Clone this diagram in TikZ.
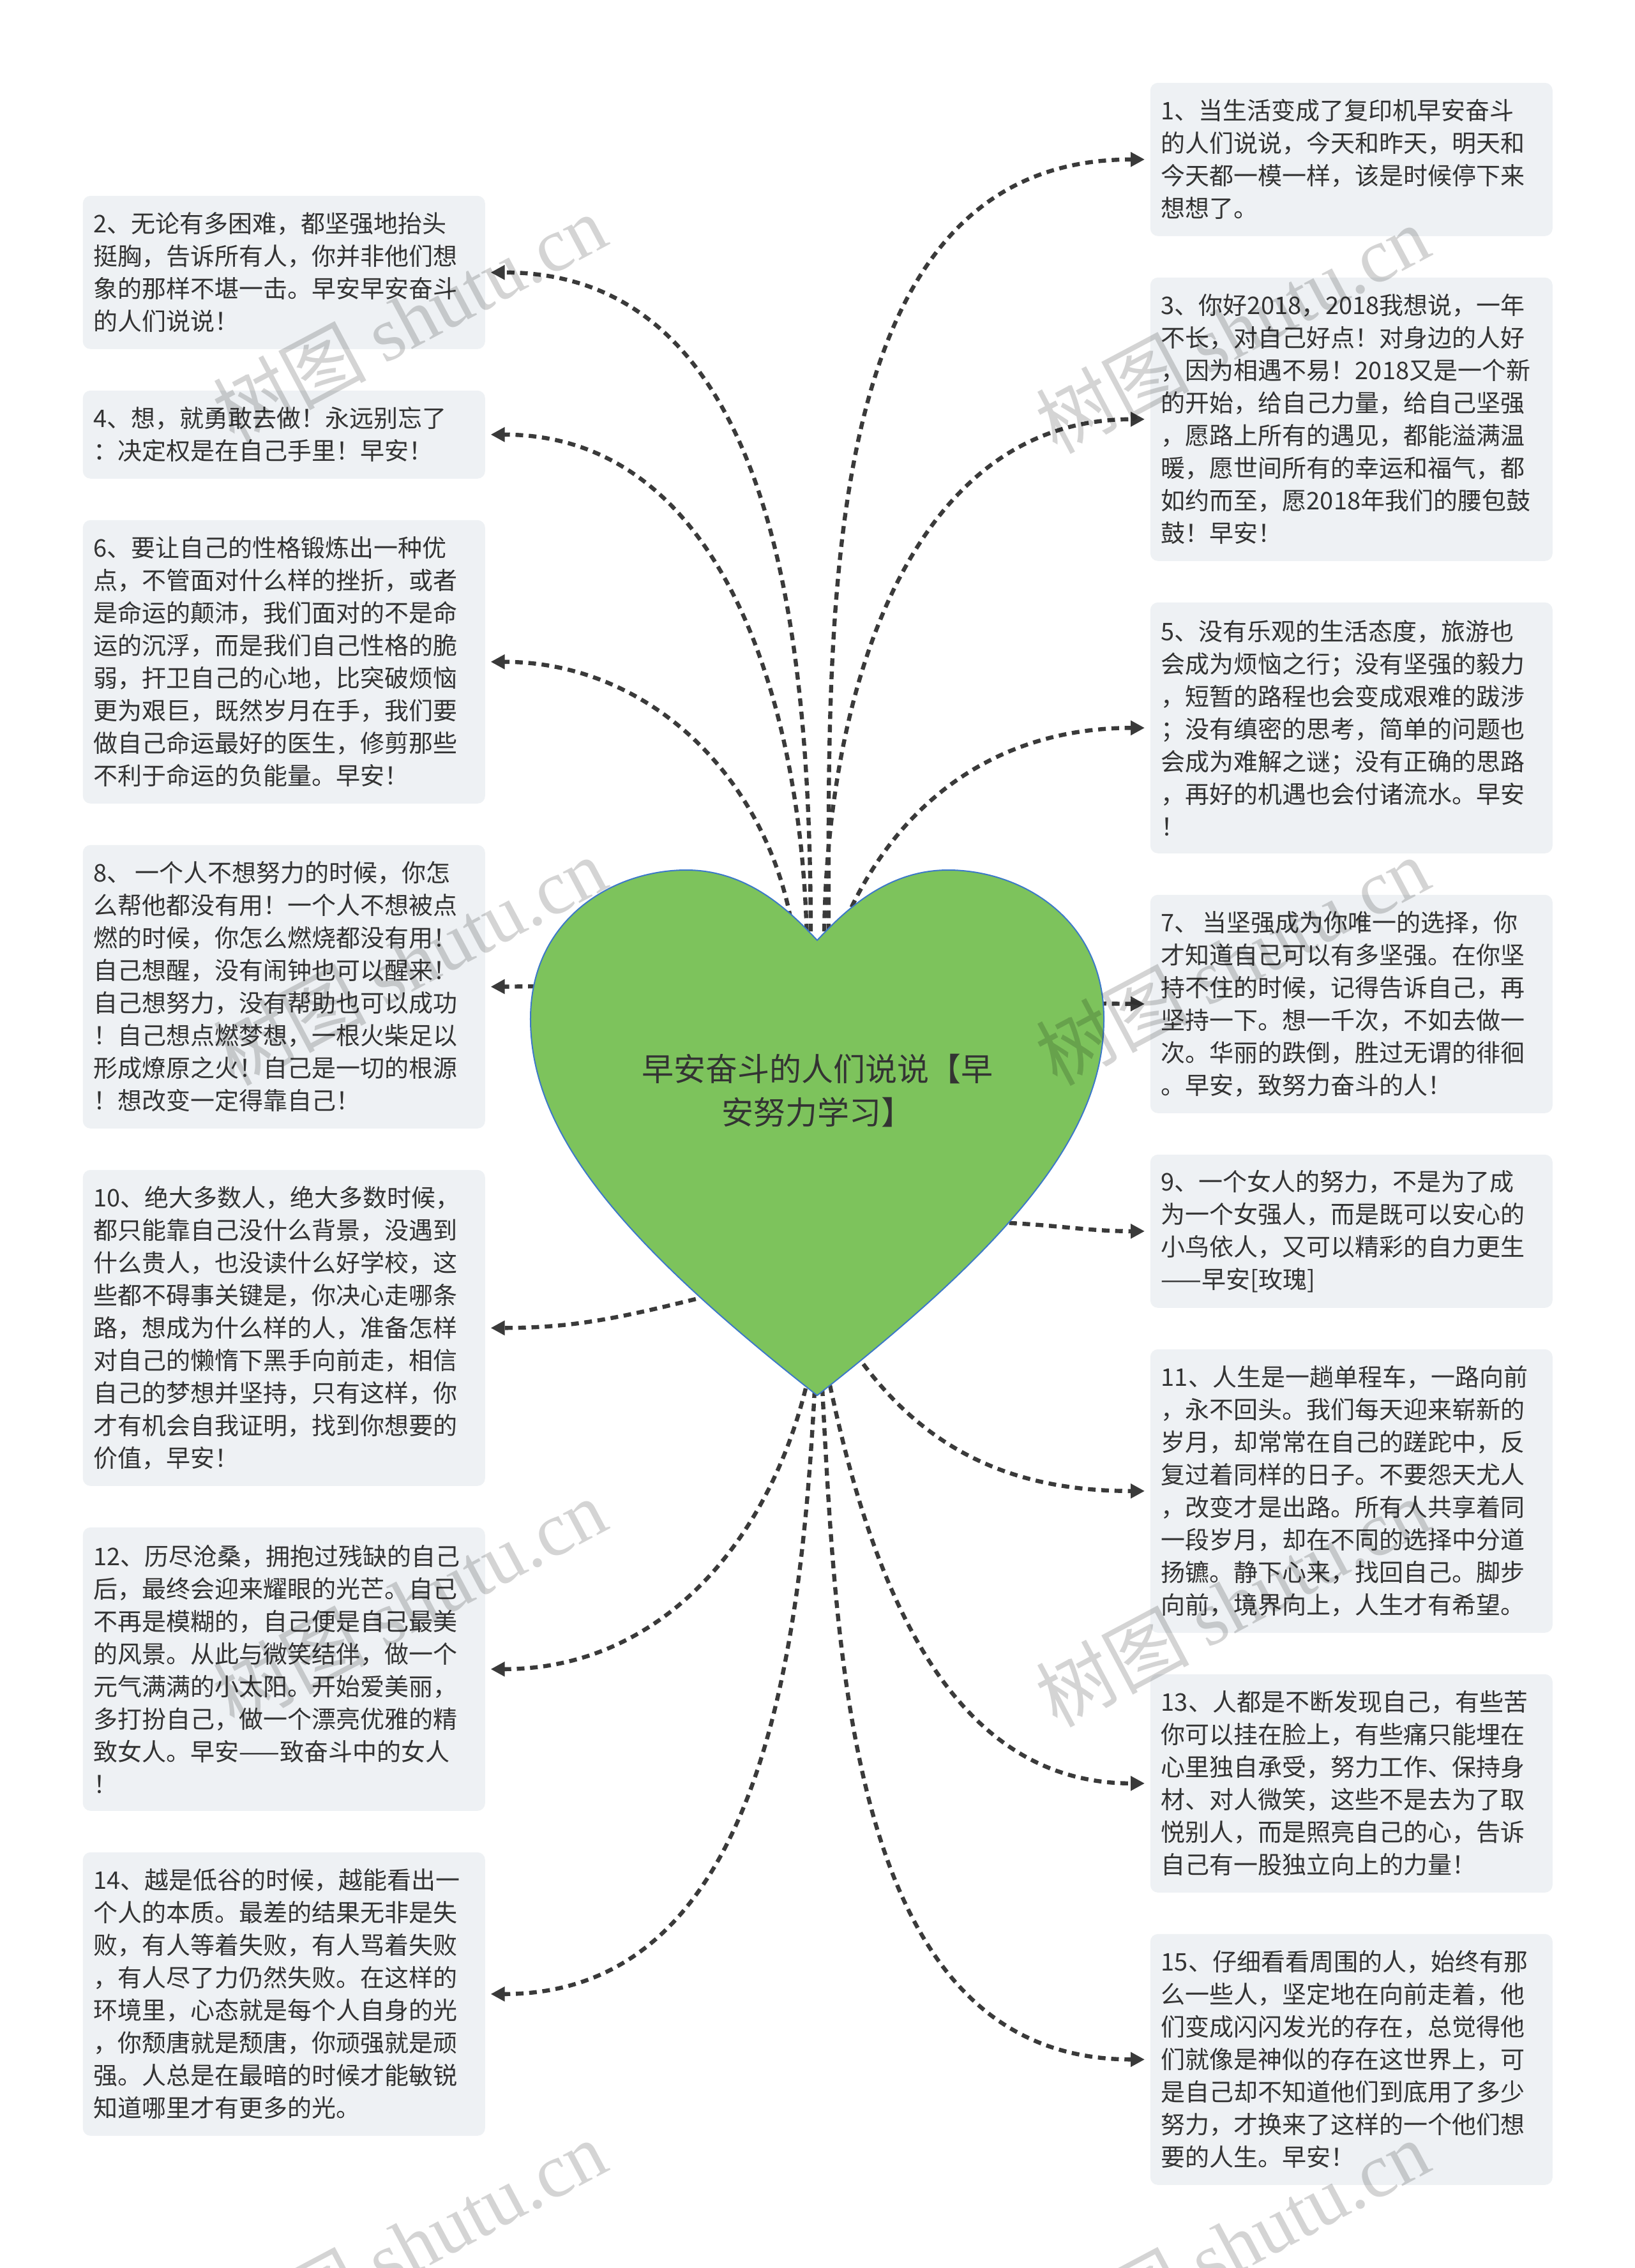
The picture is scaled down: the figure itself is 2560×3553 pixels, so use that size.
\documentclass[tikz,border=0pt]{standalone}
\usepackage{fontspec}
\setmainfont{Noto Sans CJK SC}
\newfontfamily\wmfont{Liberation Serif}
\usetikzlibrary{arrows.meta}
\definecolor{txt}{HTML}{333333}
\definecolor{boxfill}{HTML}{EEF1F4}
\definecolor{heartfill}{HTML}{7DC35C}
\definecolor{heartline}{HTML}{3C78C8}
\definecolor{connc}{HTML}{3A3A3A}
\begin{document}
\begin{tikzpicture}[x=0.25pt,y=0.25pt,
  textbox/.style={rectangle, rounded corners=3pt, fill=boxfill, text=txt,
    font=\fontsize{9.5pt}{12.75pt}\selectfont, text width=149pt,
    minimum width=157.5pt, inner xsep=4.25pt, inner ysep=0pt,
    align=left, anchor=north west},
  nl/.style={minimum height=#1*12.75pt+9pt},
  link/.style={draw=connc, line width=1.6pt, dash pattern=on 3pt off 2.2pt,
    -{Triangle[length=5.5pt,width=5.5pt]}},
  wm/.style={font=\fontsize{30pt}{30pt}\selectfont, text=black, text opacity=0.17, rotate=28}
]
\fill[white] (0,0) rectangle (2560,-3553);
\useasboundingbox (0,0) rectangle (2560,-3553);

% right column
\node[textbox,nl=4] (b1) at (1801,-129) {1、当生活变成了复印机早安奋斗\\的人们说说，今天和昨天，明天和\\今天都一模一样，该是时候停下来\\想想了。};
\node[textbox,nl=8] (b3) at (1801,-434) {3、你好2018，2018我想说，一年\\不长，对自己好点！对身边的人好\\，因为相遇不易！2018又是一个新\\的开始，给自己力量，给自己坚强\\，愿路上所有的遇见，都能溢满温\\暖，愿世间所有的幸运和福气，都\\如约而至，愿2018年我们的腰包鼓\\鼓！早安！};
\node[textbox,nl=7] (b5) at (1801,-943) {5、没有乐观的生活态度，旅游也\\会成为烦恼之行；没有坚强的毅力\\，短暂的路程也会变成艰难的跋涉\\；没有缜密的思考，简单的问题也\\会成为难解之谜；没有正确的思路\\，再好的机遇也会付诸流水。早安\\！};
\node[textbox,nl=6] (b7) at (1801,-1401) {7、\hspace{0.15em}当坚强成为你唯一的选择，你\\才知道自己可以有多坚强。在你坚\\持不住的时候，记得告诉自己，再\\坚持一下。想一千次，不如去做一\\次。华丽的跌倒，胜过无谓的徘徊\\。早安，致努力奋斗的人！};
\node[textbox,nl=4] (b9) at (1801,-1808) {9、一个女人的努力，不是为了成\\为一个女强人，而是既可以安心的\\小鸟依人，又可以精彩的自力更生\\——早安[玫瑰]};
\node[textbox,nl=8] (b11) at (1801,-2113) {11、人生是一趟单程车，一路向前\\，永不回头。我们每天迎来崭新的\\岁月，却常常在自己的蹉跎中，反\\复过着同样的日子。不要怨天尤人\\，改变才是出路。所有人共享着同\\一段岁月，却在不同的选择中分道\\扬镳。静下心来，找回自己。脚步\\向前，境界向上，人生才有希望。};
\node[textbox,nl=6] (b13) at (1801,-2622) {13、人都是不断发现自己，有些苦\\你可以挂在脸上，有些痛只能埋在\\心里独自承受，努力工作、保持身\\材、对人微笑，这些不是去为了取\\悦别人，而是照亮自己的心，告诉\\自己有一股独立向上的力量！};
\node[textbox,nl=7] (b15) at (1801,-3029) {15、仔细看看周围的人，始终有那\\么一些人，坚定地在向前走着，他\\们变成闪闪发光的存在，总觉得他\\们就像是神似的存在这世界上，可\\是自己却不知道他们到底用了多少\\努力，才换来了这样的一个他们想\\要的人生。早安！};

% left column
\node[textbox,nl=4] (b2) at (129,-306) {2、无论有多困难，都坚强地抬头\\挺胸，告诉所有人，你并非他们想\\象的那样不堪一击。早安早安奋斗\\的人们说说！};
\node[textbox,nl=2] (b4) at (129,-611) {4、想，就勇敢去做！永远别忘了\\：决定权是在自己手里！早安！};
\node[textbox,nl=8] (b6) at (129,-814) {6、要让自己的性格锻炼出一种优\\点，不管面对什么样的挫折，或者\\是命运的颠沛，我们面对的不是命\\运的沉浮，而是我们自己性格的脆\\弱，扞卫自己的心地，比突破烦恼\\更为艰巨，既然岁月在手，我们要\\做自己命运最好的医生，修剪那些\\不利于命运的负能量。早安！};
\node[textbox,nl=8] (b8) at (129,-1323) {8、\hspace{0.15em}一个人不想努力的时候，你怎\\么帮他都没有用！一个人不想被点\\燃的时候，你怎么燃烧都没有用！\\自己想醒，没有闹钟也可以醒来！\\自己想努力，没有帮助也可以成功\\！自己想点燃梦想，一根火柴足以\\形成燎原之火！自己是一切的根源\\！想改变一定得靠自己！};
\node[textbox,nl=9] (b10) at (129,-1832) {10、绝大多数人，绝大多数时候，\\都只能靠自己没什么背景，没遇到\\什么贵人，也没读什么好学校，这\\些都不碍事关键是，你决心走哪条\\路，想成为什么样的人，准备怎样\\对自己的懒惰下黑手向前走，相信\\自己的梦想并坚持，只有这样，你\\才有机会自我证明，找到你想要的\\价值，早安！};
\node[textbox,nl=8] (b12) at (129,-2392) {12、历尽沧桑，拥抱过残缺的自己\\后，最终会迎来耀眼的光芒。自己\\不再是模糊的，自己便是自己最美\\的风景。从此与微笑结伴，做一个\\元气满满的小太阳。开始爱美丽，\\多打扮自己，做一个漂亮优雅的精\\致女人。早安——致奋斗中的女人\\！};
\node[textbox,nl=8] (b14) at (129,-2901) {14、越是低谷的时候，越能看出一\\个人的本质。最差的结果无非是失\\败，有人等着失败，有人骂着失败\\，有人尽了力仍然失败。在这样的\\环境里，心态就是每个人自身的光\\，你颓唐就是颓唐，你顽强就是顽\\强。人总是在最暗的时候才能敏锐\\知道哪里才有更多的光。};

% connector start points (hidden under the heart)
\coordinate (s1) at (1298,-1480);
\coordinate (s3) at (1291,-1480);
\coordinate (s5) at (1325,-1440);
\coordinate (s7) at (1700,-1572);
\coordinate (s9) at (1560,-1915);
\coordinate (s11) at (1340,-2120);
\coordinate (s13) at (1300,-2170);
\coordinate (s15) at (1288,-2175);
\coordinate (s2) at (1270,-1480);
\coordinate (s4) at (1264,-1480);
\coordinate (s6) at (1245,-1480);
\coordinate (s8) at (860,-1545);
\coordinate (s10) at (1110,-2030);
\coordinate (s12) at (1262,-2175);
\coordinate (s14) at (1276,-2178);

\draw[link] (s1) to[out=90,in=180] ([xshift=-2pt]b1.west);
\draw[link] (s3) to[out=90,in=180] ([xshift=-2pt]b3.west);
\draw[link] (s5) to[out=66,in=180] ([xshift=-2pt]b5.west);
\draw[link] (s7) -- ([xshift=-2pt]b7.west);
\draw[link] (s9) to[out=-2,in=180] ([xshift=-2pt]b9.west);
\draw[link] (s11) to[out=-55,in=180] ([xshift=-2pt]b11.west);
\draw[link] (s13) to[out=-78,in=180] ([xshift=-2pt]b13.west);
\draw[link] (s15) to[out=-87,in=180] ([xshift=-2pt]b15.west);
\draw[link] (s2) to[out=90,in=0] ([xshift=2pt]b2.east);
\draw[link] (s4) to[out=91,in=0] ([xshift=2pt]b4.east);
\draw[link] (s6) to[out=97,in=0] ([xshift=2pt]b6.east);
\draw[link] (s8) -- ([xshift=2pt]b8.east);
\draw[link] (s10) to[out=194,in=0] ([xshift=2pt]b10.east);
\draw[link] (s12) to[out=-104,in=0] ([xshift=2pt]b12.east);
\draw[link] (s14) to[out=-93,in=0] ([xshift=2pt]b14.east);

% heart
\path[fill=heartfill, draw=heartline, line width=0.5pt]
  (1280,-2186) .. controls (980,-1950) and (833,-1780) .. (831,-1600)
  .. controls (829,-1440) and (960,-1363) .. (1075,-1363)
  .. controls (1170,-1363) and (1235,-1425) .. (1280,-1473)
  .. controls (1325,-1425) and (1390,-1363) .. (1485,-1363)
  .. controls (1600,-1363) and (1731,-1440) .. (1729,-1600)
  .. controls (1727,-1780) and (1580,-1950) .. (1280,-2186) -- cycle;
\node[font=\fontsize{12.5pt}{17pt}\selectfont, text=txt, align=center] (title) at (1280,-1708) {早安奋斗的人们说说【早\\安努力学习】};

% watermarks
\node[wm] (w1) at (641,-498) {树图 {\wmfont shutu.cn}};
\node[wm] (w2) at (1930,-515) {树图 {\wmfont shutu.cn}};
\node[wm] (w3) at (641,-1505) {树图 {\wmfont shutu.cn}};
\node[wm] (w4) at (1930,-1505) {树图 {\wmfont shutu.cn}};
\node[wm] (w5) at (641,-2510) {树图 {\wmfont shutu.cn}};
\node[wm] (w6) at (1930,-2510) {树图 {\wmfont shutu.cn}};
\node[wm] (w7) at (641,-3515) {树图 {\wmfont shutu.cn}};
\node[wm] (w8) at (1930,-3515) {树图 {\wmfont shutu.cn}};
\end{tikzpicture}
\end{document}
